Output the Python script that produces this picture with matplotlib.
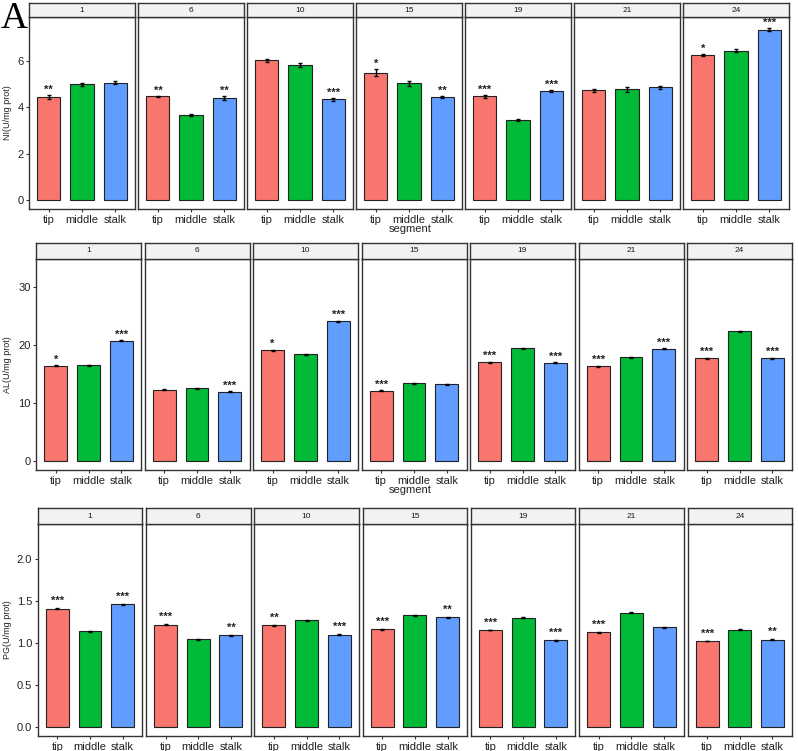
import numpy as np
import matplotlib
matplotlib.use("Agg")
import matplotlib.pyplot as plt

plt.rcParams['font.family'] = ['Liberation Sans', 'DejaVu Sans']

# data
days = ['1', '6', '10', '15', '19', '21', '24']
segments = ['tip', 'middle', 'stalk']
colr = ['#F8766D', '#00BA38', '#619CFF']

ni_vals = [[4.45, 4.99, 5.07], [4.48, 3.68, 4.41], [6.03, 5.83, 4.35], [5.49, 5.03, 4.45],
           [4.48, 3.45, 4.71], [4.74, 4.77, 4.87], [6.26, 6.45, 7.36]]
ni_err = [[0.07, 0.08, 0.05], [0.02, 0.04, 0.08], [0.06, 0.07, 0.06], [0.15, 0.10, 0.06],
          [0.06, 0.05, 0.05], [0.06, 0.12, 0.07], [0.05, 0.06, 0.08]]
ni_sig = [['**', '', ''], ['**', '', '**'], ['', '', '***'], ['*', '', '**'],
          ['***', '', '***'], ['', '', ''], ['*', '', '***']]

al_vals = [[16.4, 16.5, 20.7], [12.3, 12.56, 11.93], [19.05, 18.36, 24.1], [12.1, 13.37, 13.25],
           [16.98, 19.45, 16.9], [16.35, 17.85, 19.33], [17.67, 22.37, 17.7]]
al_err = [[0.1, 0.1, 0.1], [0.1, 0.1, 0.1], [0.15, 0.1, 0.1], [0.1, 0.1, 0.1],
          [0.1, 0.1, 0.1], [0.1, 0.1, 0.1], [0.1, 0.1, 0.1]]
al_sig = [['*', '', '***'], ['', '', '***'], ['*', '', '***'], ['***', '', ''],
          ['***', '', '***'], ['***', '', '***'], ['***', '', '***']]

pg_vals = [[1.41, 1.14, 1.46], [1.22, 1.047, 1.09], [1.21, 1.27, 1.10], [1.163, 1.33, 1.307],
           [1.155, 1.30, 1.03], [1.13, 1.36, 1.19], [1.023, 1.16, 1.04]]
pg_err = [[0.008, 0.008, 0.006], [0.005, 0.006, 0.005], [0.008, 0.005, 0.005], [0.008, 0.006, 0.006],
          [0.005, 0.005, 0.005], [0.005, 0.006, 0.006], [0.005, 0.005, 0.005]]
pg_sig = [['***', '', '***'], ['***', '', '**'], ['**', '', '***'], ['***', '', '**'],
          ['***', '', '***'], ['***', '', ''], ['***', '', '**']]

W, H = 798, 751
fig = plt.figure(figsize=(W / 100, H / 100), dpi=100)

def box(l, t, w, h):
    return [l / W, 1 - (t + h) / H, w / W, h / H]

border = '#333333'

# rows: values, errors, stars, label, ylim, ticks, tick format,
# layout (left, step, width, strip top, panel top, panel bottom), star offset, x title
rows = [
    (ni_vals, ni_err, ni_sig, 'NI(U/mg prot)', (-0.39, 7.9), [0, 2, 4, 6], '%g',
     (29, 109.0, 106, 3, 17, 209), 0.22, True),
    (al_vals, al_err, al_sig, 'AL(U/mg prot)', (-1.55, 34.8), [0, 10, 20, 30], '%g',
     (36, 108.5, 105, 243, 259, 470), 1.0, True),
    (pg_vals, pg_err, pg_sig, 'PG(U/mg prot)', (-0.11, 2.42), [0, 0.5, 1.0, 1.5, 2.0], '%.1f',
     (37.7, 108.3, 104.5, 508, 524, 736), 0.085, False),
]

x = np.arange(1, 4)
for vals, errs, sig, ylab, ylim, yt, fmt, lay, off, showx in rows:
    left, step, pw, st, pt, pb = lay
    for i in range(7):
        l = left + i * step
        ax = fig.add_axes(box(l, pt, pw, pb - pt))
        ax.bar(x, vals[i], width=0.7, color=colr, edgecolor='#222222', linewidth=0.8)
        ax.errorbar(x, vals[i], yerr=errs[i], fmt='none', ecolor='black', elinewidth=1.0, capsize=1.2)
        for j in range(3):
            if sig[i][j]:
                ax.text(x[j], vals[i][j] + errs[i][j] + off, sig[i][j], ha='center', va='center',
                        fontsize=8, fontweight='bold', color='#222222')
        ax.set_xlim(0.4, 3.6)
        ax.set_ylim(*ylim)
        ax.set_xticks(x)
        ax.set_xticklabels(segments, fontsize=8, color='#222222')
        ax.tick_params(axis='x', length=2.5, pad=2, color='#333333')
        ax.set_yticks(yt)
        if i == 0:
            ax.set_yticklabels([fmt % v for v in yt], fontsize=8, color='#222222')
            ax.tick_params(axis='y', length=2.5, pad=1.5, color='#333333')
        else:
            ax.tick_params(axis='y', left=False, labelleft=False)
        for s in ax.spines.values():
            s.set_color(border)
            s.set_linewidth(1.0)
        sax = fig.add_axes(box(l, st, pw, pt - st))
        sax.set_facecolor('#F2F2F2')
        sax.set_xticks([])
        sax.set_yticks([])
        for s in sax.spines.values():
            s.set_color(border)
            s.set_linewidth(1.0)
        sax.text(0.5, 0.5, days[i], ha='center', va='center', fontsize=6, color='#1A1A1A',
                 transform=sax.transAxes)
    fig.text(8 / W, 1 - ((pt + pb) / 2) / H, ylab, rotation=90, ha='center', va='center',
             fontsize=6.5, color='#222222')
    if showx:
        fig.text(410 / W, 1 - (pb + 20) / H, 'segment', ha='center', va='center', fontsize=8,
                 color='#222222')

fig.text(1 / W, 1 - 19 / H, 'A', ha='left', va='center', fontsize=27, family='Liberation Serif')

fig.savefig('out.png', dpi=100)
